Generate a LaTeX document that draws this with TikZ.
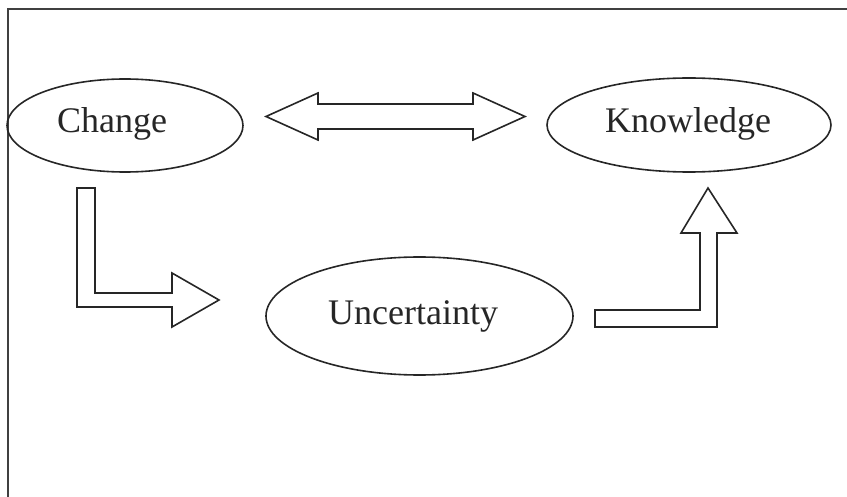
\documentclass[tikz,border=0pt]{standalone}
\usepackage{fontspec}
\setmainfont{Liberation Serif}
\usetikzlibrary{shapes.geometric}
\begin{document}
\begin{tikzpicture}[x=1pt,y=-1pt,
  oval/.style={draw=black!85,line width=1.6pt,ellipse,inner sep=0pt},
  lbl/.style={anchor=base west,inner sep=0pt,font=\fontsize{36}{40}\selectfont,text=black!85},
  blockarrow/.style={draw=black!85,line width=1.6pt,fill=white,line join=miter}]
\useasboundingbox (0,0) rectangle (847,497);
\begin{scope}
\clip (0,0) rectangle (847,497);
\draw[line width=2pt,black!75] (8,9) rectangle (852,502);
\end{scope}
% ellipses
\node[oval,minimum width=236pt,minimum height=93pt] (change) at (125,125.5) {};
\node[oval,minimum width=284pt,minimum height=94pt] (know) at (689,125) {};
\node[oval,minimum width=307pt,minimum height=118pt] (unc) at (419.5,316) {};
% texts
\node[lbl] (tchange) at (57,133) {Change};
\node[lbl] (tknow) at (605,133) {Knowledge};
\node[lbl] (tunc) at (328,325) {Uncertainty};
% double arrow
\draw[blockarrow] (266,116.5) -- (318,93) -- (318,104) -- (473,104) -- (473,93)
  -- (525,116.5) -- (473,140) -- (473,129) -- (318,129) -- (318,140) -- cycle;
% L arrow down-right
\draw[blockarrow] (77,188) -- (95,188) -- (95,293) -- (172,293) -- (172,273)
  -- (219,300) -- (172,327) -- (172,307) -- (77,307) -- cycle;
% up arrow
\draw[blockarrow] (595,310) -- (700,310) -- (700,233) -- (681,233) -- (708,188)
  -- (737,233) -- (717,233) -- (717,327) -- (595,327) -- cycle;
\end{tikzpicture}
\end{document}
